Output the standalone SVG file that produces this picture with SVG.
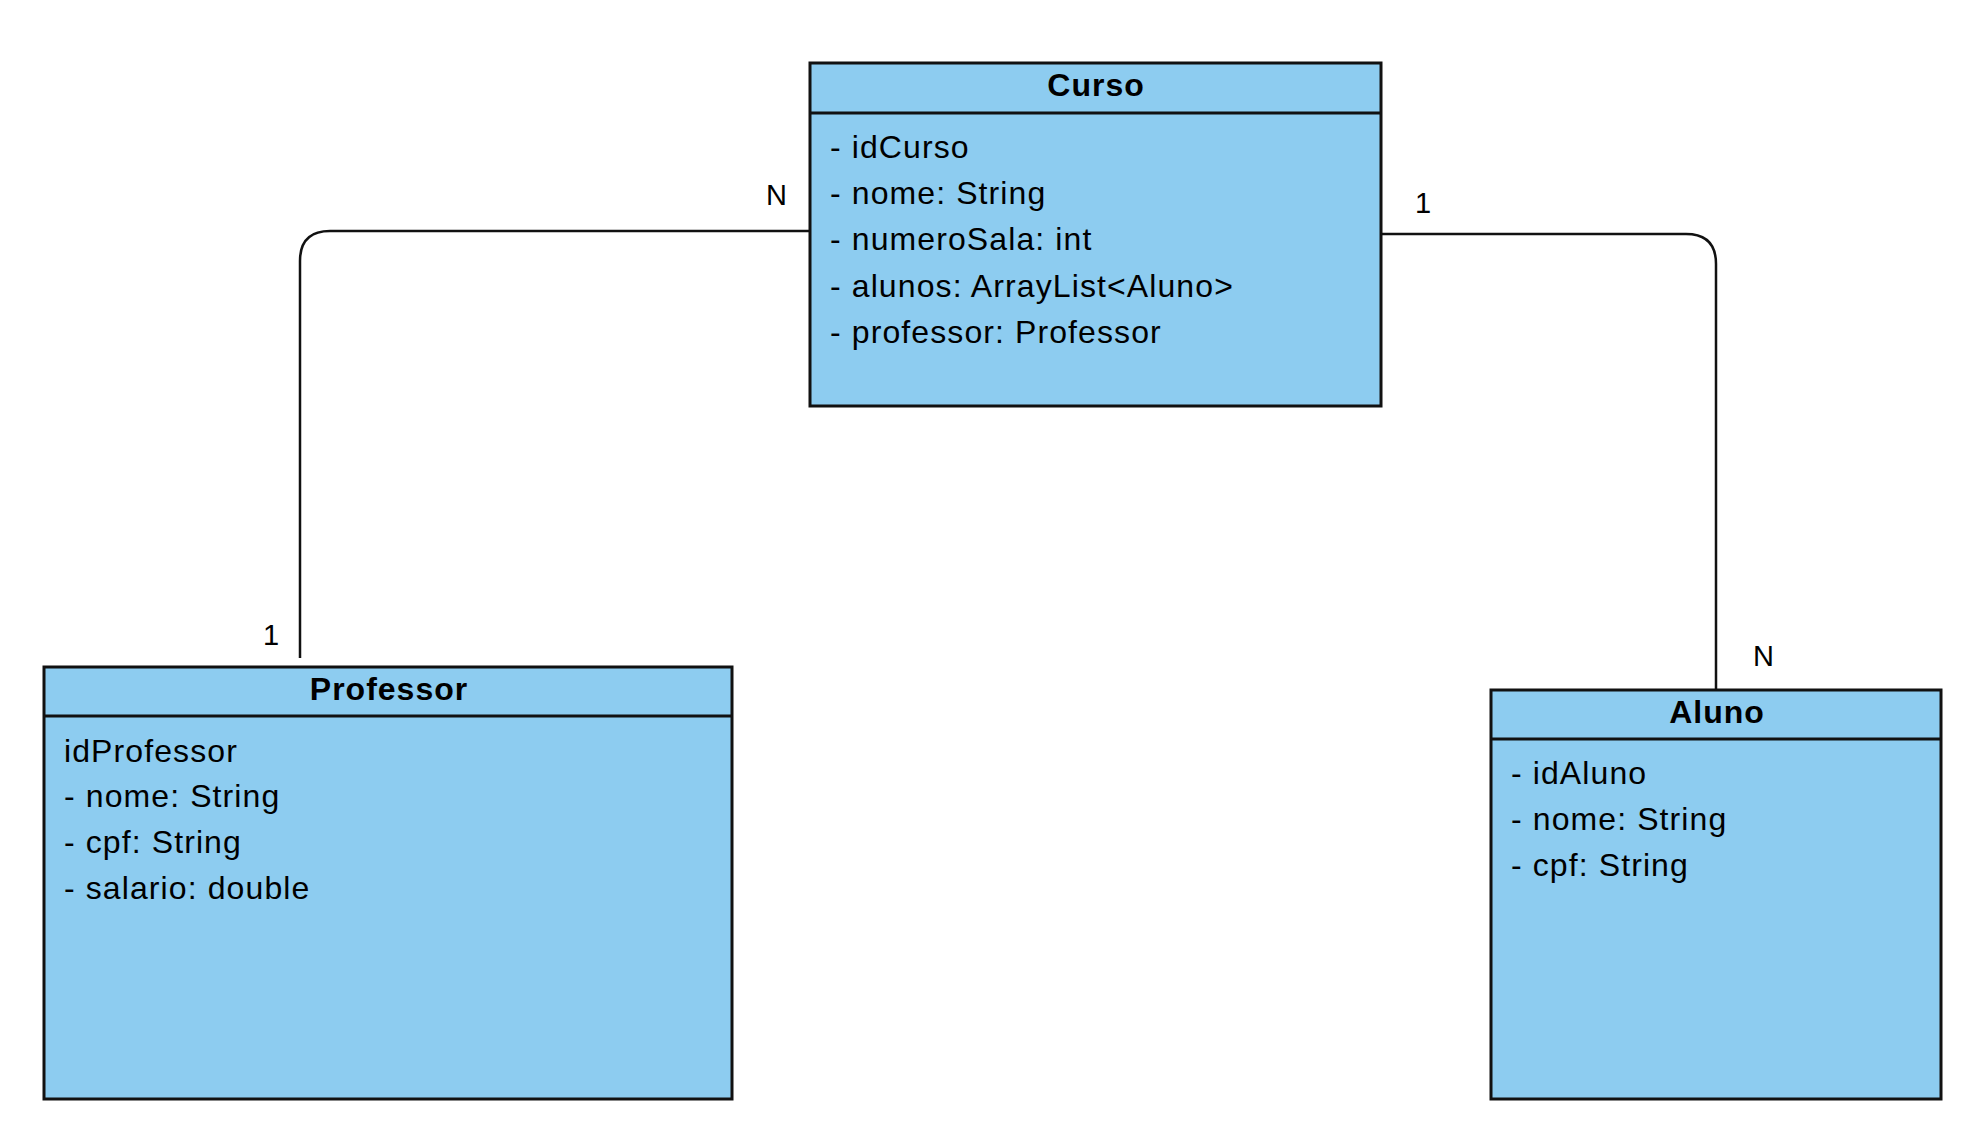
<svg xmlns="http://www.w3.org/2000/svg" width="1984" height="1140" viewBox="0 0 1984 1140">
<style>
.box{fill:#8DCCF0;stroke:#111;stroke-width:3}
.sep{stroke:#111;stroke-width:3}
.title{font-family:"Liberation Sans",Arial,sans-serif;font-size:32px;font-weight:bold;letter-spacing:1px;fill:#000;text-anchor:middle}
.attr{font-family:"Liberation Sans",Arial,sans-serif;font-size:32px;letter-spacing:1.1px;fill:#000}
.mult{font-family:"Liberation Sans",Arial,sans-serif;font-size:29px;fill:#000}
.conn{fill:none;stroke:#111;stroke-width:2.5}
</style>
<rect width="1984" height="1140" fill="#fff"/>
<g id="connectors">
<path class="conn" d="M810,231 H330 Q300,231 300,261 V658"/>
<path class="conn" d="M1381,234 H1686 Q1716,234 1716,264 V690"/>
<text class="mult" x="766" y="205">N</text>
<text class="mult" x="263" y="645">1</text>
<text class="mult" x="1415" y="213">1</text>
<text class="mult" x="1753" y="666">N</text>
</g>
<g id="curso">
<rect class="box" x="810" y="63" width="571" height="343"/>
<line class="sep" x1="810" y1="113" x2="1381" y2="113"/>
<text class="title" x="1096" y="96">Curso</text>
<text class="attr" x="830" y="158">- idCurso</text>
<text class="attr" x="830" y="204">- nome: String</text>
<text class="attr" x="830" y="250">- numeroSala: int</text>
<text class="attr" x="830" y="297">- alunos: ArrayList&lt;Aluno&gt;</text>
<text class="attr" x="830" y="343">- professor: Professor</text>
</g>
<g id="professor">
<rect class="box" x="44" y="667" width="688" height="432"/>
<line class="sep" x1="44" y1="716" x2="732" y2="716"/>
<text class="title" x="389" y="700">Professor</text>
<text class="attr" x="64" y="762">idProfessor</text>
<text class="attr" x="64" y="807">- nome: String</text>
<text class="attr" x="64" y="853">- cpf: String</text>
<text class="attr" x="64" y="899">- salario: double</text>
</g>
<g id="aluno">
<rect class="box" x="1491" y="690" width="450" height="409"/>
<line class="sep" x1="1491" y1="739" x2="1941" y2="739"/>
<text class="title" x="1717" y="723">Aluno</text>
<text class="attr" x="1511" y="784">- idAluno</text>
<text class="attr" x="1511" y="830">- nome: String</text>
<text class="attr" x="1511" y="876">- cpf: String</text>
</g>
</svg>
